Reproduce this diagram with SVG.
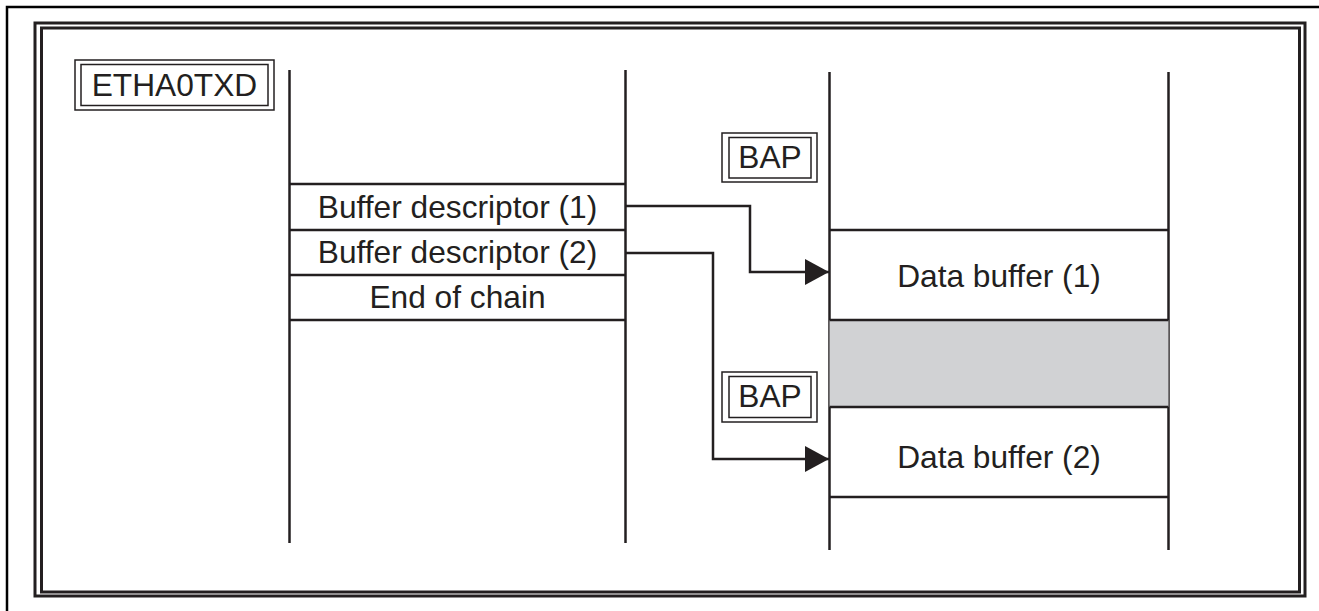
<svg xmlns="http://www.w3.org/2000/svg" width="1319" height="611" viewBox="0 0 1319 611">
  <style>
    .ln { stroke: #231f20; stroke-width: 2.5; fill: none; }
    .frame { stroke: #231f20; fill: none; }
    .box { stroke: #231f20; stroke-width: 1.5; fill: #fff; }
    .lbl { font-family: "Liberation Sans", Arial, sans-serif; font-size: 31.7px; fill: #231f20; text-anchor: middle; }
  </style>
  <defs>
    <marker id="arrow" markerUnits="userSpaceOnUse" markerWidth="26" markerHeight="28" refX="24" refY="13" orient="auto">
      <path d="M0,0 L24,13 L0,26 Z" fill="#231f20"/>
    </marker>
  </defs>

  <rect width="1319" height="611" fill="#fff"/>

  <!-- page border (top and left edges) -->
  <path d="M7,611 V7 H1319" stroke="#000" stroke-width="2.5" fill="none"/>

  <!-- double frame -->
  <rect class="frame" x="35" y="23" width="1270" height="573" stroke-width="3"/>
  <rect class="frame" x="41.5" y="28" width="1258" height="564" stroke-width="3"/>

  <!-- ETHA0TXD memory area -->
  <g id="etha0txd">
    <rect class="box" x="75" y="60" width="199" height="50"/>
    <rect class="box" x="81" y="64.5" width="187" height="41"/>
    <text class="lbl" x="174.5" y="96">ETHA0TXD</text>
  </g>

  <g id="descriptor-area">
    <line class="ln" x1="289.5" y1="70" x2="289.5" y2="543"/>
    <line class="ln" x1="625.5" y1="70" x2="625.5" y2="543"/>
    <line class="ln" x1="289.5" y1="184" x2="625.5" y2="184"/>
  </g>

  <g id="descriptor-1">
    <line class="ln" x1="289.5" y1="230" x2="625.5" y2="230"/>
    <text class="lbl" x="457.5" y="218">Buffer descriptor (1)</text>
  </g>
  <g id="descriptor-2">
    <line class="ln" x1="289.5" y1="275" x2="625.5" y2="275"/>
    <text class="lbl" x="457.5" y="263">Buffer descriptor (2)</text>
  </g>
  <g id="end-of-chain">
    <line class="ln" x1="289.5" y1="320" x2="625.5" y2="320"/>
    <text class="lbl" x="457.5" y="308">End of chain</text>
  </g>

  <!-- data buffer area -->
  <g id="buffer-area">
    <line class="ln" x1="829.5" y1="72" x2="829.5" y2="550"/>
    <line class="ln" x1="1168.5" y1="72" x2="1168.5" y2="550"/>
  </g>
  <g id="data-buffer-1">
    <line class="ln" x1="829.5" y1="230" x2="1168.5" y2="230"/>
    <text class="lbl" x="999" y="287">Data buffer (1)</text>
  </g>
  <g id="gap">
    <rect x="829.5" y="320" width="339" height="87" fill="#d1d2d4"/>
    <line class="ln" x1="829.5" y1="320" x2="1168.5" y2="320"/>
    <line class="ln" x1="829.5" y1="407" x2="1168.5" y2="407"/>
  </g>
  <g id="data-buffer-2">
    <line class="ln" x1="829.5" y1="497" x2="1168.5" y2="497"/>
    <text class="lbl" x="999" y="468">Data buffer (2)</text>
  </g>

  <g id="bap-1">
    <rect class="box" x="722" y="133" width="95" height="49"/>
    <rect class="box" x="729" y="137.5" width="82" height="40.5"/>
    <text class="lbl" x="770" y="168">BAP</text>
  </g>
  <g id="bap-2">
    <rect class="box" x="722" y="372" width="95" height="50"/>
    <rect class="box" x="729" y="376.5" width="82" height="41"/>
    <text class="lbl" x="770" y="407">BAP</text>
  </g>

  <!-- pointers from descriptors to buffers -->
  <g id="connectors">
    <path class="ln" d="M625.5,206 H750 V272 H829" marker-end="url(#arrow)"/>
    <path class="ln" d="M625.5,253 H713 V459 H829" marker-end="url(#arrow)"/>
  </g>
</svg>
